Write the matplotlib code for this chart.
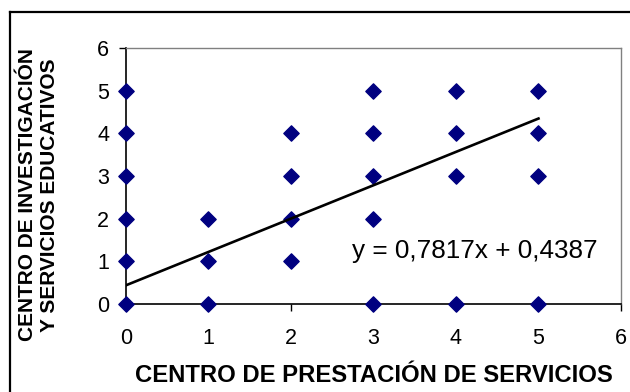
import matplotlib
matplotlib.use("Agg")
import matplotlib.pyplot as plt
from matplotlib.lines import Line2D
from matplotlib.path import Path

plt.rcParams['font.family'] = ['Liberation Sans', 'DejaVu Sans']

# Observed pairs (prestación, investigación)
x_vals = [0, 0, 0, 0, 0, 0,
          1, 1, 1,
          2, 2, 2, 2,
          3, 3, 3, 3, 3,
          4, 4, 4, 4,
          5, 5, 5, 5]
y_vals = [0, 1, 2, 3, 4, 5,
          0, 1, 2,
          1, 2, 3, 4,
          0, 2, 3, 4, 5,
          0, 3, 4, 5,
          0, 3, 4, 5]

slope = 0.7817
intercept = 0.4387
trend_x = [0, 5]

x_ticks = [0, 1, 2, 3, 4, 5, 6]
y_ticks = [0, 1, 2, 3, 4, 5, 6]

fig = plt.figure(figsize=(6.3, 3.92), dpi=100)
ax = fig.add_axes([0.2, 0.2245, 0.7857, 0.653])

diamond = Path([(0, 1), (1, 0), (0, -1), (-1, 0), (0, 1)],
               [Path.MOVETO, Path.LINETO, Path.LINETO, Path.LINETO, Path.CLOSEPOLY])
ax.plot(x_vals, y_vals, linestyle='none', marker=diamond, markersize=11,
        color='#000080', clip_on=False, zorder=3)

trend_y = [slope * v + intercept for v in trend_x]
ax.plot(trend_x, trend_y, color='black', linewidth=1.9, zorder=4)

ax.text(2.74, 1.25, f"y = {slope:.4f}x + {intercept:.4f}".replace('.', ','),
        fontsize=18.8, va='center', ha='left')

ax.set_xlim(0, 6)
ax.set_ylim(0, 6)
ax.set_xticks(x_ticks)
ax.set_yticks(y_ticks)
ax.tick_params(axis='both', direction='out', length=5, width=1, labelsize=15.5,
               color='black')
ax.tick_params(axis='y', pad=7)
ax.tick_params(axis='x', pad=12)

for side in ('left', 'bottom'):
    ax.spines[side].set_color('black')
    ax.spines[side].set_linewidth(1.2)
for side in ('top', 'right'):
    ax.spines[side].set_color('#808080')
    ax.spines[side].set_linewidth(1.0)

ax.set_xlabel("CENTRO DE PRESTACIÓN DE SERVICIOS", fontsize=17.2,
              fontweight='bold', labelpad=11)
fig.text(0.061, 0.503, "CENTRO DE INVESTIGACIÓN\nY SERVICIOS EDUCATIVOS",
         rotation=90, fontsize=15, fontweight='bold', ha='center', va='center',
         multialignment='center', linespacing=1.2)

# Chart frame (top and left edges visible)
fig.add_artist(Line2D([10 / 630, 1.0], [1 - 12 / 392, 1 - 12 / 392],
                      transform=fig.transFigure, color='black', linewidth=1.6))
fig.add_artist(Line2D([10 / 630, 10 / 630], [0.0, 1 - 12 / 392],
                      transform=fig.transFigure, color='black', linewidth=1.6))

fig.savefig("out.png", dpi=100)
